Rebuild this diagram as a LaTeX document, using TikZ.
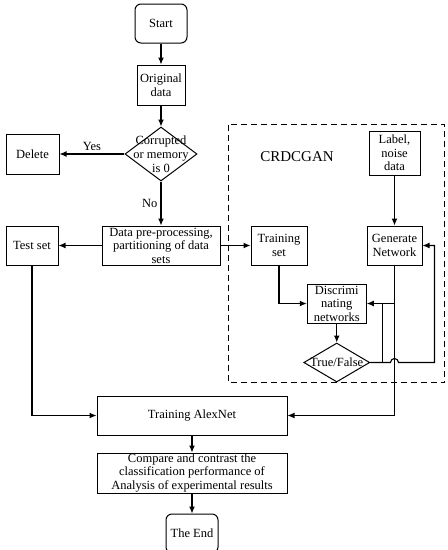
\documentclass[tikz,border=0pt]{standalone}
\usepackage{fontspec}
\setmainfont{Liberation Serif}
\usetikzlibrary{positioning,arrows.meta,calc,shapes.geometric}
\tikzset{
  base/.style={draw,align=center,font=\fontsize{12.5}{13.5}\selectfont,inner sep=0pt,line width=1pt},
  box/.style={base,minimum width=#1,minimum height=39pt},
  term/.style={base,rounded corners=6pt,minimum width=52pt,minimum height=39pt},
  dec/.style={base,diamond},
  dtxt/.style={align=center,font=\fontsize{12.5}{14}\selectfont,inner sep=0pt},
  group/.style={line width=1pt,dash pattern=on 6pt off 4pt},
  arr/.style={-{Latex[length=7pt,width=6pt]},line width=1.1pt},
  line/.style={line width=1.1pt},
  lbl/.style={font=\fontsize{12.5}{13.5}\selectfont,inner sep=3pt},
  title/.style={font=\fontsize{15}{17}\selectfont}}
\begin{document}
\begin{tikzpicture}
\useasboundingbox (0,0) rectangle (448pt,-550pt);
\node[term] (start) at (161pt,-23.5pt) {Start};
\node[box=48pt, minimum height=40pt, below=21pt of start] (orig) {Original\\ data};
\node[dec, minimum width=72pt, minimum height=54pt, below=21pt of orig,
  label={[dtxt]center:{Corrupted\\ or memory\\ is 0}}] (chk) {};
\node[box=53pt, minimum height=40pt, left=65pt of chk] (del) {Delete};
\node[box=118pt, below=44pt of chk] (pre) {Data pre-processing,\\ partitioning of data\\ sets};
\node[box=52pt, left=43pt of pre] (test) {Test set};
\node[box=56pt, right=30pt of pre] (tset) {Training\\ set};
\node[box=55pt, right=59pt of tset] (gen) {Generate\\ Network};
\node[box=51pt, minimum height=44pt, above=50pt of gen] (lbl) {Label,\\ noise\\ data};
\coordinate (mid) at ($(tset.south)!0.5!(gen.south)$);
\node[box=59pt, below=18pt of mid] (dis) {Discrimi\\ nating\\ networks};
\node[dec, minimum width=66pt, minimum height=39pt, below=19pt of dis,
  label={[dtxt]center:True/False}] (tf) {};
\node[title] (crd) at ($(tset.north)+(18pt,69pt)$) {CRDCGAN};
\node[box=190pt, below=130pt of pre, xshift=31pt] (alex) {Training AlexNet};
\node[box=190pt, minimum height=40pt, below=17pt of alex] (cmp)
  {Compare and contrast the\\ classification performance of\\ Analysis of experimental results};
\node[term, below=20pt of cmp] (end) {The End};
% GAN block
\draw[group] ($(tset.west|-lbl.north)+(-22pt,6pt)$) rectangle ($(gen.east|-tf.south)+(22pt,0)$);
\draw[arr] (start) -- (orig);
\draw[arr] (orig) -- (chk);
\draw[arr] (chk) -- node[lbl,above] {Yes} (del);
\draw[arr] (chk) -- node[lbl,left] {No} (pre);
\draw[arr] (pre) -- (test);
\draw[arr] (pre) -- (tset);
\draw[arr] (lbl) -- (gen);
\draw[arr] (tset.south) |- (dis.west);
\draw[arr] (gen.south) |- (dis.east);
\draw[arr] (dis) -- (tf);
\draw[line] (tf.east) -| ($(dis.east)+(16pt,0)$);
\coordinate (rt) at ($(gen.east)+(12pt,0)$);
\draw[arr] (tf.east) -- ($(gen.south|-tf.east)+(-4pt,0)$) arc[start angle=180,end angle=0,radius=4pt]
  -- (rt|-tf.east) -- (rt) -- (gen.east);
\draw[arr] (gen.south) |- (alex.east);
\draw[arr] (test.south) |- (alex.west);
\draw[arr] (alex) -- (cmp);
\draw[arr] (cmp) -- (end);
\end{tikzpicture}
\end{document}
